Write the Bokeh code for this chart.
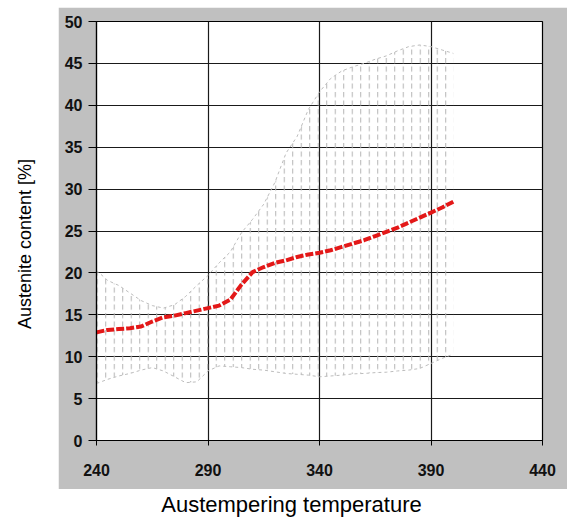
import math
from bokeh.plotting import figure
from bokeh.models import FixedTicker, Range1d, Spacer
from bokeh.layouts import column, row
from bokeh.core.properties import value
from bokeh.embed import file_html
from bokeh.resources import INLINE

# Austempering temperature (x) and austenite content [%]
temps = [240, 245, 250, 255, 260, 265, 270, 275, 280, 285, 290, 295, 300, 305, 310, 315,
         320, 325, 330, 335, 340, 345, 350, 355, 360, 365, 370, 375, 380, 385, 390, 395, 400]
mean = [12.9, 13.2, 13.3, 13.4, 13.6, 14.2, 14.7, 14.9, 15.2, 15.5, 15.8, 16.1, 16.8, 18.6,
        20.1, 20.7, 21.2, 21.5, 21.9, 22.2, 22.4, 22.7, 23.1, 23.5, 23.9, 24.4, 24.9, 25.4,
        26.0, 26.6, 27.2, 27.8, 28.5]
upper = [20.3, 19.1, 18.5, 17.6, 16.7, 16.1, 15.8, 16.2, 17.2, 18.5, 19.7, 21.2, 22.5, 24.8,
         26.4, 28.2, 30.8, 34.3, 36.3, 39.5, 41.6, 43.2, 44.1, 44.6, 45.0, 45.5, 45.9, 46.5,
         47.0, 47.2, 47.0, 46.6, 46.2]
lower = [6.8, 7.3, 7.7, 8.0, 8.4, 8.7, 8.3, 7.6, 6.9, 7.0, 8.3, 8.9, 8.8, 8.7, 8.5, 8.4,
         8.2, 8.0, 7.9, 7.8, 7.6, 7.7, 7.8, 7.95, 8.0, 8.1, 8.15, 8.3, 8.4, 8.6, 9.2, 9.8, 10.3]

x_ticks = [240, 290, 340, 390, 440]
y_ticks = [0, 5, 10, 15, 20, 25, 30, 35, 40, 45, 50]
x_title = "Austempering temperature"
y_title = "Austenite content [%]"

FONT = "Liberation Sans"
GRAY = "#C0C0C0"

# ---- main plot (gray panel) ----
p = figure(width=509, height=482, output_backend="svg", toolbar_location=None,
           x_range=Range1d(240, 440), y_range=Range1d(0, 50),
           min_border_left=38, min_border_right=25, min_border_top=14, min_border_bottom=49)
p.border_fill_color = GRAY
p.background_fill_color = "white"
p.outline_line_color = "black"
p.outline_line_width = 1.2

# band (hatched area between lower and upper bounds)
p.varea(x=temps, y1=lower, y2=upper, fill_color=None, fill_alpha=0,
        hatch_pattern=":", hatch_scale=8.5, hatch_color="#b4b4b4", hatch_weight=1)
p.line(temps, upper, line_color="#bdbdbd", line_width=1, line_dash="3 3")
p.line(temps, lower, line_color="#bdbdbd", line_width=1, line_dash="3 3")

# mean curve
p.line(temps, mean, line_color="#E31818", line_width=4, line_dash="8 2")

for ax in (p.xaxis[0], p.yaxis[0]):
    ax.axis_line_color = "black"
    ax.axis_line_width = 1.2
    ax.major_tick_line_color = "black"
    ax.major_tick_in = 0
    ax.minor_tick_line_color = None
    ax.major_label_text_font = FONT
    ax.major_label_text_font_style = "bold"
    ax.major_label_text_font_size = "16px"
    ax.major_label_text_color = "#111111"

p.xaxis.ticker = FixedTicker(ticks=x_ticks)
p.yaxis.ticker = FixedTicker(ticks=y_ticks)
p.xaxis.major_tick_out = 5
p.yaxis.major_tick_out = 8
p.xaxis.major_label_standoff = 18
p.yaxis.major_label_standoff = 6

p.xgrid.ticker = FixedTicker(ticks=x_ticks)
p.ygrid.ticker = FixedTicker(ticks=y_ticks)
p.grid.grid_line_color = "#1a1a1a"
p.grid.grid_line_width = 1.2


def blank(w, h, xr, yr):
    f = figure(width=w, height=h, output_backend="svg", toolbar_location=None,
               x_range=Range1d(*xr), y_range=Range1d(*yr), min_border=0)
    f.axis.visible = False
    f.grid.visible = False
    f.outline_line_color = None
    f.background_fill_color = "white"
    f.border_fill_color = "white"
    return f


# ---- y axis title (white strip on the left) ----
left = blank(58, 482, (0, 58), (0, 482))
left.text(x=[24], y=[226], text=[y_title], angle=math.pi / 2,
          text_font=value(FONT), text_font_size="18px", text_color="black",
          text_align="center", text_baseline="middle")

# ---- x axis title (white strip at the bottom) ----
bottom = blank(567, 30, (0, 567), (0, 30))
bottom.text(x=[291], y=[15], text=[x_title],
            text_font=value(FONT), text_font_size="22px", text_color="black",
            text_align="center", text_baseline="middle")

layout = column(Spacer(width=567, height=7), row(left, p), bottom)

open("out.html", "w").write(file_html(layout, INLINE))
